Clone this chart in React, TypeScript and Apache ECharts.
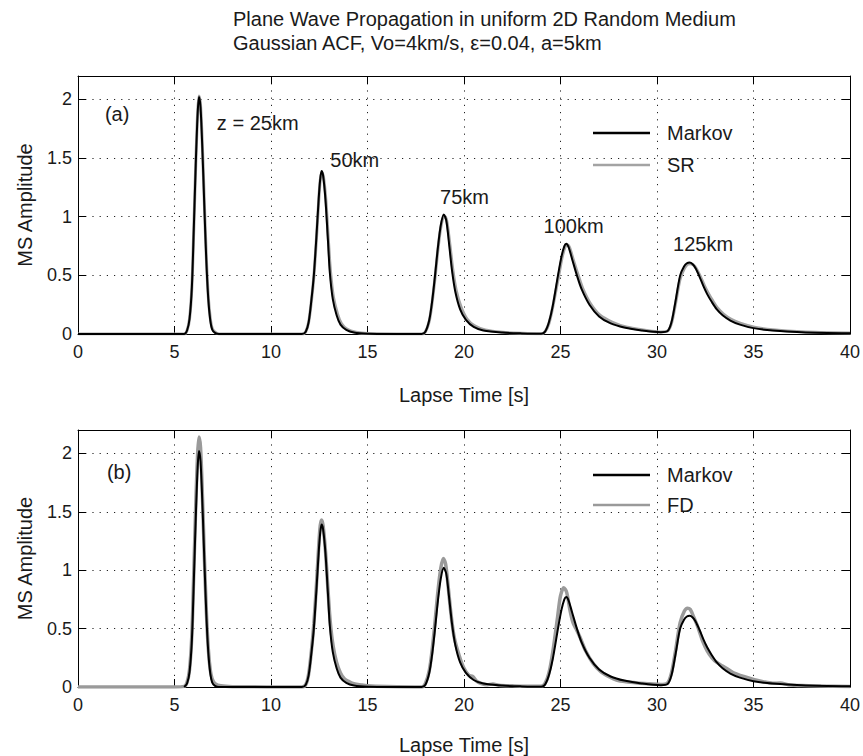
import React, { useEffect, useRef } from "react";
import * as echarts from "echarts";

type P = [number, number];

const titleLines = [
  "Plane Wave Propagation in uniform 2D Random Medium",
  "Gaussian ACF, Vo=4km/s, ε=0.04, a=5km",
];

const xTickStep = 5;
const yTickStep = 0.5;

// Markov (black) – both panels
const markov: P[] = [
  [0, 0], [5.5, 0], [5.65, 0.03], [5.78, 0.13], [5.9, 0.4], [6.0, 0.9], [6.1, 1.44], [6.2, 1.88], [6.27, 2.02], [6.35, 1.93], [6.45, 1.55], [6.55, 1.07], [6.65, 0.62], [6.75, 0.3], [6.85, 0.12], [6.95, 0.04], [7.1, 0.01], [7.3, 0],
  [11.6, 0], [11.8, 0.02], [11.95, 0.1], [12.1, 0.3], [12.22, 0.5], [12.35, 0.82], [12.47, 1.15], [12.55, 1.32], [12.62, 1.39], [12.7, 1.35], [12.82, 1.15], [12.95, 0.8], [13.05, 0.52], [13.2, 0.3], [13.4, 0.16], [13.6, 0.08], [13.9, 0.035], [14.3, 0.012], [15, 0.003],
  [17.8, 0], [18.0, 0.02], [18.2, 0.12], [18.35, 0.28], [18.5, 0.5], [18.65, 0.74], [18.8, 0.93], [18.95, 1.02], [19.08, 0.97], [19.22, 0.78], [19.38, 0.54], [19.55, 0.36], [19.8, 0.21], [20.1, 0.12], [20.5, 0.06], [21, 0.03], [22, 0.012], [23, 0.005],
  [24.0, 0.002], [24.2, 0.02], [24.4, 0.1], [24.6, 0.24], [24.87, 0.5], [25.05, 0.66], [25.2, 0.75], [25.3, 0.77], [25.42, 0.74], [25.6, 0.64], [25.85, 0.5], [26.1, 0.38], [26.5, 0.25], [27.0, 0.15], [27.6, 0.09], [28.3, 0.055], [29.2, 0.03], [30.2, 0.015],
  [30.55, 0.025], [30.75, 0.1], [30.95, 0.27], [31.2, 0.5], [31.4, 0.575], [31.55, 0.603], [31.69, 0.61], [31.85, 0.595], [32.0, 0.56], [32.2, 0.49], [32.4, 0.41], [32.6, 0.34], [32.85, 0.27], [33.1, 0.21], [33.4, 0.16], [33.8, 0.115], [34.3, 0.08], [35.0, 0.05], [36, 0.03], [37.5, 0.015], [40, 0.006],
];

// SR (gray, top panel)
const sr: P[] = [
  [0, 0], [5.5, 0], [5.65, 0.03], [5.78, 0.13], [5.9, 0.4], [6.0, 0.9], [6.1, 1.44], [6.2, 1.89], [6.27, 2.03], [6.35, 1.95], [6.45, 1.58], [6.55, 1.1], [6.65, 0.65], [6.75, 0.32], [6.85, 0.14], [6.95, 0.05], [7.1, 0.015], [7.3, 0],
  [11.6, 0], [11.8, 0.02], [11.95, 0.1], [12.1, 0.29], [12.22, 0.49], [12.35, 0.8], [12.47, 1.13], [12.55, 1.31], [12.63, 1.38], [12.72, 1.34], [12.84, 1.15], [12.97, 0.81], [13.08, 0.54], [13.23, 0.32], [13.45, 0.17], [13.65, 0.09], [13.95, 0.04], [14.4, 0.015], [15, 0.004],
  [17.8, 0], [18.0, 0.02], [18.2, 0.11], [18.35, 0.27], [18.5, 0.48], [18.65, 0.72], [18.8, 0.91], [18.97, 1.01], [19.1, 0.97], [19.25, 0.79], [19.42, 0.55], [19.6, 0.37], [19.85, 0.23], [20.15, 0.13], [20.55, 0.07], [21.1, 0.035], [22, 0.015], [23, 0.006],
  [24.0, 0.002], [24.2, 0.02], [24.4, 0.09], [24.6, 0.23], [24.9, 0.49], [25.08, 0.65], [25.23, 0.74], [25.33, 0.76], [25.46, 0.74], [25.65, 0.64], [25.9, 0.51], [26.15, 0.39], [26.55, 0.26], [27.05, 0.16], [27.7, 0.1], [28.4, 0.06], [29.3, 0.035], [30.2, 0.018],
  [30.55, 0.025], [30.75, 0.09], [30.95, 0.25], [31.2, 0.47], [31.42, 0.56], [31.58, 0.595], [31.72, 0.6], [31.88, 0.59], [32.05, 0.555], [32.25, 0.49], [32.45, 0.415], [32.65, 0.35], [32.9, 0.28], [33.15, 0.22], [33.45, 0.17], [33.85, 0.125], [34.35, 0.09], [35.05, 0.058], [36, 0.036], [37.5, 0.019], [40, 0.008],
];

// FD (gray, bottom panel)
const fd: P[] = [
  [0, 0], [5.0, 0], [5.5, 0.005], [5.65, 0.04], [5.78, 0.15], [5.9, 0.45], [6.0, 0.98], [6.1, 1.55], [6.2, 2.0], [6.27, 2.14], [6.35, 2.05], [6.45, 1.62], [6.55, 1.1], [6.65, 0.65], [6.75, 0.33], [6.85, 0.15], [6.95, 0.07], [7.1, 0.03], [7.4, 0.01], [8, 0.003], [11.6, 0],
  [11.8, 0.02], [11.95, 0.11], [12.1, 0.32], [12.22, 0.54], [12.35, 0.86], [12.47, 1.2], [12.55, 1.38], [12.62, 1.43], [12.7, 1.38], [12.82, 1.17], [12.95, 0.84], [13.07, 0.56], [13.22, 0.35], [13.4, 0.21], [13.6, 0.12], [13.8, 0.07], [14.0, 0.05], [14.25, 0.03], [14.6, 0.02], [15, 0.01], [16, 0.004],
  [17.8, 0], [18.0, 0.03], [18.2, 0.14], [18.35, 0.32], [18.5, 0.56], [18.65, 0.82], [18.8, 1.02], [18.93, 1.1], [19.05, 1.05], [19.18, 0.86], [19.33, 0.62], [19.5, 0.42], [19.75, 0.27], [20.0, 0.16], [20.25, 0.1], [20.45, 0.09], [20.65, 0.05], [20.9, 0.03], [21.2, 0.02], [21.5, 0.025], [21.8, 0.015], [22.5, 0.01], [23.5, 0.006],
  [24.0, 0.006], [24.2, 0.03], [24.4, 0.12], [24.6, 0.3], [24.85, 0.6], [25.0, 0.78], [25.17, 0.85], [25.32, 0.81], [25.5, 0.65], [25.65, 0.55], [25.8, 0.5], [26.0, 0.43], [26.3, 0.31], [26.7, 0.2], [27.1, 0.13], [27.55, 0.085], [27.9, 0.06], [28.4, 0.045], [29.0, 0.035], [29.6, 0.028], [30.2, 0.022],
  [30.55, 0.035], [30.75, 0.12], [30.95, 0.3], [31.2, 0.55], [31.42, 0.65], [31.58, 0.675], [31.72, 0.665], [31.9, 0.6], [32.1, 0.52], [32.35, 0.4], [32.6, 0.31], [32.85, 0.25], [33.1, 0.21], [33.4, 0.18], [33.7, 0.15], [34.0, 0.12], [34.5, 0.09], [35.0, 0.065], [35.5, 0.045], [36.0, 0.032], [36.4, 0.034], [36.8, 0.02], [37.5, 0.012], [38.5, 0.008], [40, 0.005],
];

// annotations [t, amplitude, text]
const annotationsA: [number, number, string][] = [
  [2.03, 1.88, "(a)"],
  [9.31, 1.8, "z = 25km"],
  [14.34, 1.48, "50km"],
  [20.03, 1.166, "75km"],
  [25.68, 0.919, "100km"],
  [32.39, 0.766, "125km"],
];
const annotationsB: [number, number, string][] = [[2.13, 1.84, "(b)"]];

const FONT = "'Liberation Sans', Arial, Helvetica, sans-serif";
const TXT = "#1a1a1a";

function xAxes(gridIndex: number, nameGap: number) {
  const common = {
    type: "value" as const,
    gridIndex,
    min: 0,
    max: 40,
    interval: xTickStep,
    axisLine: { show: true, onZero: false, lineStyle: { color: "#000", width: 1 } },
    axisTick: { show: true, inside: true, length: 8, lineStyle: { color: "#000" } },
  };
  return [
    {
      ...common,
      position: "bottom",
      name: "Lapse Time [s]",
      nameLocation: "middle",
      nameGap,
      nameTextStyle: { fontSize: 20, color: TXT, fontFamily: FONT },
      axisLabel: { fontSize: 18, color: TXT, fontFamily: FONT, margin: 9 },
      splitLine: { show: true, lineStyle: { color: "#222", type: [1.2, 6], width: 1 } },
    },
    {
      ...common,
      position: "top",
      axisLabel: { show: false },
      splitLine: { show: false },
    },
  ];
}

function yAxes(gridIndex: number) {
  const common = {
    type: "value" as const,
    gridIndex,
    min: 0,
    max: 2.2,
    interval: yTickStep,
    axisLine: { show: true, onZero: false, lineStyle: { color: "#000", width: 1 } },
    axisTick: { show: true, inside: true, length: 8, lineStyle: { color: "#000" } },
  };
  return [
    {
      ...common,
      position: "left",
      name: "MS Amplitude",
      nameLocation: "middle",
      nameGap: 43,
      nameTextStyle: { fontSize: 20, color: TXT, fontFamily: FONT },
      axisLabel: { fontSize: 18, color: TXT, fontFamily: FONT, margin: 6, showMaxLabel: false },
      splitLine: { show: true, lineStyle: { color: "#222", type: [1.2, 6], width: 1 } },
    },
    {
      ...common,
      position: "right",
      axisLabel: { show: false },
      splitLine: { show: false },
    },
  ];
}

function annotationSeries(xi: number, yi: number, data: [number, number, string][]) {
  return {
    type: "scatter",
    xAxisIndex: xi,
    yAxisIndex: yi,
    symbolSize: 0,
    silent: true,
    data,
    itemStyle: { opacity: 1, color: TXT },
    label: {
      show: true,
      position: "inside",
      formatter: (p: any) => p.data[2],
      fontSize: 20,
      color: TXT,
      opacity: 1,
      fontFamily: FONT,
    },
    z: 5,
  };
}

export default function App() {
  const ref = useRef<HTMLDivElement>(null);
  useEffect(() => {
    if (!ref.current) return;
    const chart = echarts.init(ref.current, undefined, { renderer: "svg" });
    const gray = "#a3a3a3";
    const fdGray = "#9a9a9a";
    chart.setOption({
      animation: false,
      backgroundColor: "#fff",
      title: {
        text: titleLines.join("\n"),
        left: 228,
        top: 2,
        textStyle: { fontSize: 20, fontWeight: "normal", color: TXT, fontFamily: FONT, lineHeight: 24 },
      },
      grid: [
        { left: 78, top: 76, width: 778, height: 258, show: false },
        { left: 78, top: 430, width: 778, height: 257, show: false },
      ],
      xAxis: [...xAxes(0, 51), ...xAxes(1, 48)],
      yAxis: [...yAxes(0), ...yAxes(1)],
      legend: [
        {
          orient: "vertical",
          left: 588,
          top: 118,
          itemWidth: 57,
          itemHeight: 2.5,
          itemGap: 12,
          icon: "rect",
          textStyle: { fontSize: 20, color: TXT, fontFamily: FONT, padding: [0, 0, 0, 12] },
          data: [
            { name: "Markov", itemStyle: { color: "#000" } },
            { name: "SR", itemStyle: { color: gray } },
          ],
        },
        {
          orient: "vertical",
          left: 588,
          top: 460,
          itemWidth: 57,
          itemHeight: 2.5,
          itemGap: 10,
          icon: "rect",
          textStyle: { fontSize: 20, color: TXT, fontFamily: FONT, padding: [0, 0, 0, 12] },
          data: [
            { name: "Markov", itemStyle: { color: "#000" } },
            { name: "FD", itemStyle: { color: fdGray } },
          ],
        },
      ],
      series: [
        {
          name: "SR",
          type: "line",
          xAxisIndex: 0,
          yAxisIndex: 0,
          data: sr,
          showSymbol: false,
          smooth: 0.3,
          lineStyle: { color: gray, width: 3 },
          itemStyle: { color: gray },
          z: 2,
        },
        {
          name: "Markov",
          type: "line",
          xAxisIndex: 0,
          yAxisIndex: 0,
          data: markov,
          showSymbol: false,
          smooth: 0.3,
          lineStyle: { color: "#000", width: 2 },
          itemStyle: { color: "#000" },
          z: 3,
        },
        {
          name: "FD",
          type: "line",
          xAxisIndex: 2,
          yAxisIndex: 2,
          data: fd,
          showSymbol: false,
          smooth: 0.3,
          lineStyle: { color: fdGray, width: 3.5 },
          itemStyle: { color: fdGray },
          z: 2,
        },
        {
          name: "Markov",
          type: "line",
          xAxisIndex: 2,
          yAxisIndex: 2,
          data: markov.filter((p) => p[0] >= 5),
          showSymbol: false,
          smooth: 0.3,
          lineStyle: { color: "#000", width: 2 },
          itemStyle: { color: "#000" },
          z: 3,
        },
        annotationSeries(0, 0, annotationsA),
        annotationSeries(2, 2, annotationsB),
      ],
    });
    return () => chart.dispose();
  }, []);
  return (
    <div
      ref={ref}
      style={{ position: "fixed", left: 0, top: 0, width: 863, height: 756, background: "#fff" }}
    />
  );
}
